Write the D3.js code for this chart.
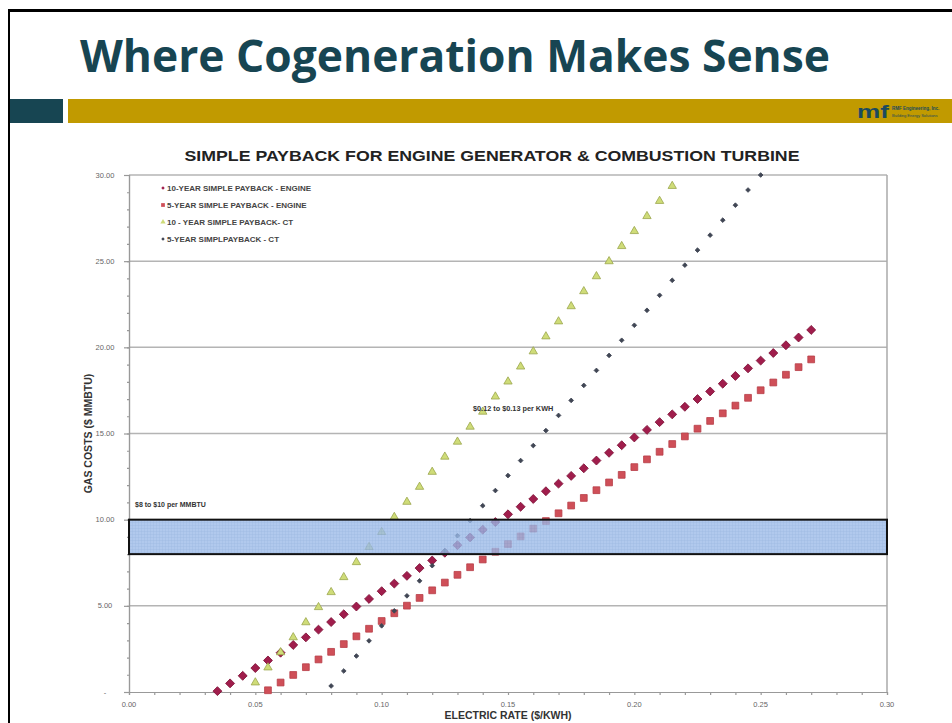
<!DOCTYPE html>
<html>
<head>
<meta charset="utf-8">
<script src="https://cdn.jsdelivr.net/npm/d3@7"></script>
<style>
  body { margin: 0; background: #fff; }
  svg { display: block; font-family: "Liberation Sans", Arial, sans-serif; }
</style>
</head>
<body>
<div id="chart"></div>
<script>
// ---- data ----
const slideTitle = "Where Cogeneration Makes Sense";
const chartTitle = "SIMPLE PAYBACK FOR ENGINE GENERATOR & COMBUSTION TURBINE";
const xTicks = [0, 0.05, 0.10, 0.15, 0.20, 0.25, 0.30];
const yTicks = [0, 5, 10, 15, 20, 25, 30];
const seriesNames = [
  "10-YEAR SIMPLE PAYBACK - ENGINE",
  "5-YEAR SIMPLE PAYBACK - ENGINE",
  "10 - YEAR SIMPLE PAYBACK- CT",
  "5-YEAR SIMPLPAYBACK - CT"
];

// 10-year engine (diamonds)
const engine10Rate = [0.035,0.040,0.045,0.050,0.055,0.060,0.065,0.070,0.075,0.080,0.085,0.090,0.095,0.100,0.105,0.110,
  0.115,0.120,0.125,0.130,0.135,0.140,0.145,0.150,0.155,0.160,0.165,0.170,0.175,0.180,0.185,0.190,
  0.195,0.200,0.205,0.210,0.215,0.220,0.225,0.230,0.235,0.240,0.245,0.250,0.255,0.260,0.265,0.270];
const engine10Gas = [0.05,0.50,0.94,1.39,1.83,2.28,2.73,3.17,3.62,4.06,4.51,4.96,5.40,5.85,6.29,6.74,
  7.19,7.63,8.08,8.52,8.97,9.42,9.86,10.31,10.75,11.20,11.65,12.09,12.54,12.98,13.43,13.88,
  14.32,14.77,15.21,15.66,16.11,16.55,17.00,17.44,17.89,18.34,18.78,19.23,19.67,20.12,20.57,21.01];

// 5-year engine (squares)
const engine5Rate = [0.055,0.060,0.065,0.070,0.075,0.080,0.085,0.090,0.095,0.100,0.105,0.110,0.115,0.120,0.125,0.130,
  0.135,0.140,0.145,0.150,0.155,0.160,0.165,0.170,0.175,0.180,0.185,0.190,0.195,0.200,0.205,0.210,
  0.215,0.220,0.225,0.230,0.235,0.240,0.245,0.250,0.255,0.260,0.265,0.270];
const engine5Gas = [0.10,0.55,0.99,1.44,1.89,2.33,2.78,3.23,3.67,4.12,4.57,5.01,5.46,5.90,6.35,6.80,
  7.24,7.69,8.14,8.58,9.03,9.48,9.92,10.37,10.82,11.26,11.71,12.16,12.60,13.05,13.50,13.94,
  14.39,14.83,15.28,15.73,16.17,16.62,17.07,17.51,17.96,18.41,18.85,19.30];

// 10-year CT (triangles)
const ct10Rate = [0.050,0.055,0.060,0.065,0.070,0.075,0.080,0.085,0.090,0.095,0.100,0.105,0.110,0.115,0.120,0.125,
  0.130,0.135,0.140,0.145,0.150,0.155,0.160,0.165,0.170,0.175,0.180,0.185,0.190,0.195,0.200,0.205,0.210,0.215];
const ct10Gas = [0.55,1.42,2.30,3.17,4.04,4.92,5.79,6.66,7.53,8.41,9.28,10.15,11.03,11.90,12.77,13.65,
  14.52,15.39,16.26,17.14,18.01,18.88,19.76,20.63,21.50,22.38,23.25,24.12,24.99,25.87,26.74,27.61,28.49,29.36];

// 5-year CT (small dots)
const ct5Rate = [0.080,0.085,0.090,0.095,0.100,0.105,0.110,0.115,0.120,0.125,0.130,0.135,0.140,0.145,0.150,0.155,
  0.160,0.165,0.170,0.175,0.180,0.185,0.190,0.195,0.200,0.205,0.210,0.215,0.220,0.225,0.230,0.235,0.240,0.245,0.250];
const ct5Gas = [0.35,1.22,2.09,2.97,3.84,4.71,5.58,6.45,7.33,8.20,9.07,9.94,10.81,11.69,12.56,13.43,
  14.30,15.17,16.05,16.92,17.79,18.66,19.53,20.41,21.28,22.15,23.02,23.89,24.77,25.64,26.51,27.38,28.25,29.13,30.00];

// gas cost band and annotations
const bandLow = 8, bandHigh = 10;
const bandLabel = "$8 to $10 per MMBTU";
const rateLabel = "$0.12  to $0.13 per KWH";

// ---- slide ----
const W = 952, H = 723;
const svg = d3.select("#chart").append("svg").attr("width", W).attr("height", H);

svg.append("rect").attr("x", 8).attr("y", 9).attr("width", W).attr("height", 3).attr("fill", "#000");
svg.append("rect").attr("x", 8).attr("y", 9).attr("width", 2).attr("height", H).attr("fill", "#000");

svg.append("text")
  .attr("x", 80).attr("y", 72)
  .attr("font-family", "'Open Sans', 'Liberation Sans', sans-serif")
  .attr("font-weight", "bold").attr("font-size", 44)
  .attr("textLength", 750).attr("lengthAdjust", "spacingAndGlyphs")
  .attr("fill", "#174552")
  .text(slideTitle);

svg.append("rect").attr("x", 10).attr("y", 99).attr("width", 53).attr("height", 24).attr("fill", "#174552");
svg.append("rect").attr("x", 68).attr("y", 99).attr("width", W - 68).attr("height", 24).attr("fill", "#c19a00");

// little logo on the gold bar
svg.append("text").attr("x", 857).attr("y", 118)
  .attr("font-weight", "bold").attr("font-size", 19).attr("fill", "#1b4a5e")
  .attr("textLength", 32).attr("lengthAdjust", "spacingAndGlyphs").text("mf");
svg.append("text").attr("x", 892).attr("y", 110)
  .attr("font-weight", "bold").attr("font-size", 4.5).attr("fill", "#1b4a5e")
  .text("RMF Engineering, Inc.");
svg.append("text").attr("x", 892).attr("y", 117)
  .attr("font-size", 4).attr("fill", "#1b4a5e")
  .text("Building Energy Solutions");

// ---- chart ----
const x = d3.scaleLinear().domain([0, 0.30]).range([129, 887]);
const y = d3.scaleLinear().domain([0, 30]).range([692, 175]);

svg.append("text")
  .attr("x", 492).attr("y", 161)
  .attr("text-anchor", "middle")
  .attr("font-weight", "bold").attr("font-size", 15.5).attr("fill", "#222")
  .attr("textLength", 615).attr("lengthAdjust", "spacingAndGlyphs")
  .text(chartTitle);

// gridlines
svg.append("g").selectAll("line")
  .data(yTicks.filter(d => d > 0))
  .join("line")
  .attr("x1", x(0)).attr("x2", x(0.30))
  .attr("y1", d => y(d)).attr("y2", d => y(d))
  .attr("stroke", "#b4b4b4").attr("stroke-width", 1.5);

// plot frame right side
svg.append("line").attr("x1", x(0.30)).attr("x2", x(0.30)).attr("y1", y(30)).attr("y2", y(0))
  .attr("stroke", "#aaa").attr("stroke-width", 1.5);

// axes
svg.append("g")
  .attr("transform", `translate(0, ${y(0)})`)
  .call(d3.axisBottom(x).tickValues(d3.range(0, 0.301, 0.01)).tickSize(3).tickFormat(""));
svg.append("g")
  .attr("transform", `translate(${x(0)}, 0)`)
  .call(d3.axisLeft(y).tickValues(d3.range(0, 30.1, 1)).tickSize(2).tickFormat(""));
svg.append("g")
  .attr("transform", `translate(${x(0)}, 0)`)
  .call(d3.axisLeft(y).tickValues(yTicks).tickSize(5).tickFormat(""));
svg.selectAll(".domain, .tick line").attr("stroke", "#999").attr("stroke-width", 1.2);

// tick labels
svg.append("g").selectAll("text")
  .data(xTicks)
  .join("text")
  .attr("x", d => x(d)).attr("y", y(0) + 15)
  .attr("text-anchor", "middle").attr("font-size", 7.5).attr("fill", "#666")
  .text(d => d.toFixed(2));
svg.append("g").selectAll("text")
  .data(yTicks)
  .join("text")
  .attr("x", 105).attr("y", d => y(d) + 2.5)
  .attr("text-anchor", "middle").attr("font-size", 7.5).attr("fill", "#666")
  .text(d => d === 0 ? "-" : d.toFixed(2));

svg.append("text")
  .attr("x", x(0.15)).attr("y", 719)
  .attr("text-anchor", "middle").attr("font-weight", "bold").attr("font-size", 10.5).attr("fill", "#333")
  .text("ELECTRIC RATE ($/KWH)");
svg.append("text")
  .attr("transform", `translate(92, ${y(15)}) rotate(-90)`)
  .attr("text-anchor", "middle").attr("font-weight", "bold").attr("font-size", 10.5).attr("fill", "#333")
  .text("GAS COSTS ($ MMBTU)");

// series
const series = [
  { rate: engine10Rate, gas: engine10Gas, type: d3.symbolSquare, size: 40, rot: 45, fill: "#a01d4c", stroke: "#7e1238" },
  { rate: engine5Rate, gas: engine5Gas, type: d3.symbolSquare, size: 46, rot: 0, fill: "#cf4f58", stroke: "#b83d48" },
  { rate: ct10Rate, gas: ct10Gas, type: d3.symbolTriangle, size: 30, rot: 0, fill: "#cfdc78", stroke: "#9aa64c" },
  { rate: ct5Rate, gas: ct5Gas, type: d3.symbolSquare, size: 11, rot: 45, fill: "#404654", stroke: "#404654" }
];

series.forEach(s => {
  svg.append("g").selectAll("path")
    .data(s.rate.map((r, i) => [r, s.gas[i]]))
    .join("path")
    .attr("d", d3.symbol().type(s.type).size(s.size))
    .attr("transform", d => `translate(${x(d[0])}, ${y(d[1])}) rotate(${s.rot})`)
    .attr("fill", s.fill).attr("stroke", s.stroke).attr("stroke-width", 0.8);
});

// shaded gas band drawn over the points
const defs = svg.append("defs");
const pat = defs.append("pattern").attr("id", "grid").attr("width", 3).attr("height", 3)
  .attr("patternUnits", "userSpaceOnUse");
pat.append("rect").attr("width", 3).attr("height", 3).attr("fill", "#9dbbe8");
pat.append("path").attr("d", "M0 0 H3 M0 0 V3").attr("stroke", "#7fa2d6").attr("stroke-width", 0.6);

svg.append("rect")
  .attr("x", x(0)).attr("y", y(bandHigh))
  .attr("width", x(0.30) - x(0)).attr("height", y(bandLow) - y(bandHigh))
  .attr("fill", "url(#grid)").attr("fill-opacity", 0.8)
  .attr("stroke", "#111").attr("stroke-width", 2);

svg.append("text").attr("x", 135).attr("y", 507)
  .attr("font-weight", "bold").attr("font-size", 7).attr("fill", "#333").text(bandLabel);
svg.append("text").attr("x", 473).attr("y", 411)
  .attr("font-weight", "bold").attr("font-size", 7.3).attr("fill", "#333").text(rateLabel);

// legend
const legend = svg.append("g").selectAll("g")
  .data(seriesNames)
  .join("g")
  .attr("transform", (d, i) => `translate(163, ${188 + i * 17})`);
legend.append("path")
  .attr("d", (d, i) => d3.symbol().type(series[i].type).size(i === 1 ? 14 : (i === 2 ? 12 : 6))())
  .attr("transform", (d, i) => `rotate(${series[i].rot})`)
  .attr("fill", (d, i) => series[i].fill);
legend.append("text")
  .attr("x", 4).attr("y", 3)
  .attr("font-weight", "bold").attr("font-size", 8).attr("fill", "#444")
  .text(d => d);
</script>
</body>
</html>
